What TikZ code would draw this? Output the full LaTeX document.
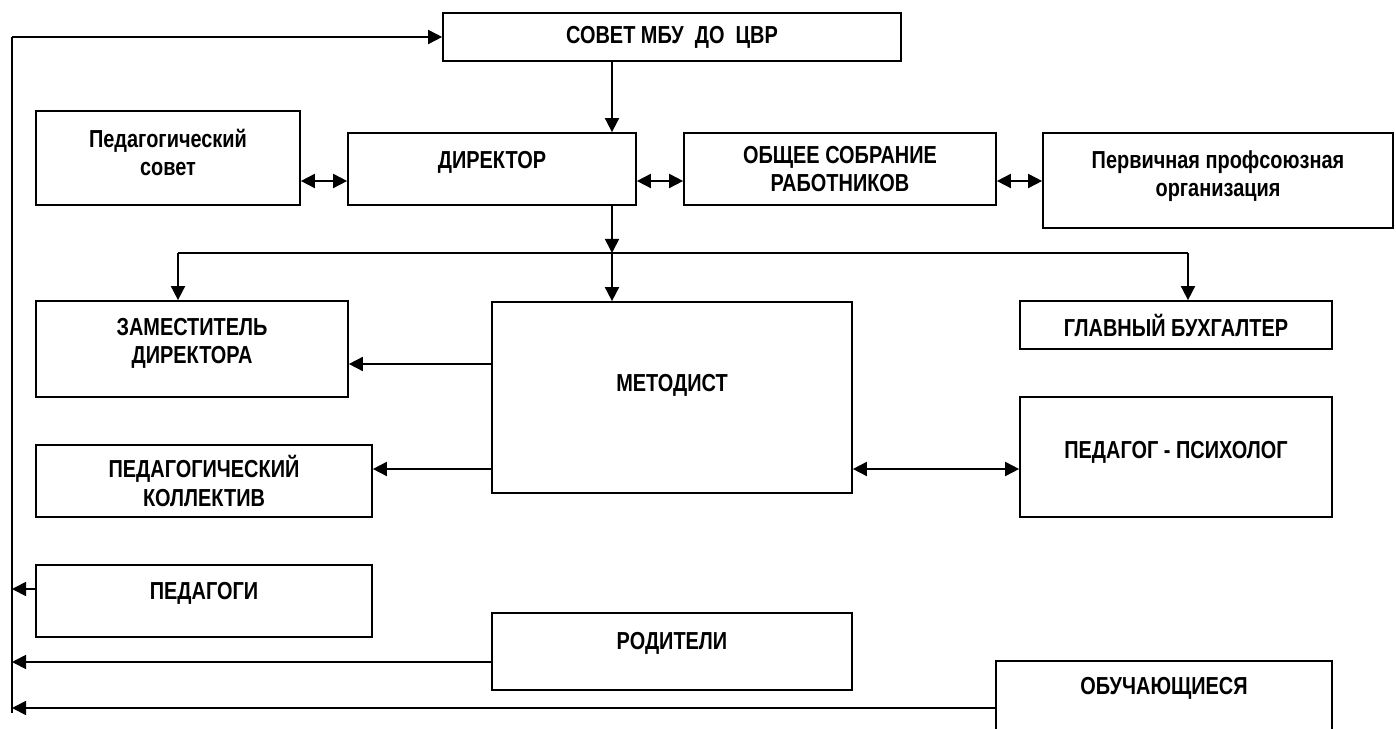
\documentclass[tikz,border=0pt]{standalone}
\usepackage{fontspec}
\newfontfamily\boxfont{Liberation Sans}[FakeStretch=0.81]
\usetikzlibrary{arrows.meta}

\tikzset{
  box/.style={draw, line width=1pt, align=center, inner sep=2pt,
    font=\boxfont\bfseries\fontsize{14}{16}\selectfont},
  lift/.style={text depth=#1}
}

\begin{document}
\begin{tikzpicture}[x=0.02cm, y=-0.02cm, line width=1pt, >={Triangle[length=8pt,width=8pt]}]
  \useasboundingbox (0,0) rectangle (1396,729);
  \clip (0,0) rectangle (1396,729);
  % top row
  \node (sovet) at (672,37) [box, minimum width=9.16cm, minimum height=0.96cm] {СОВЕТ МБУ \ ДО \ ЦВР};
  \node (pedsovet) at (168,158) [box, lift=6pt, minimum width=5.28cm, minimum height=1.88cm] {Педагогический\\совет};
  \node (dir) at (492,169) [box, lift=10pt, minimum width=5.76cm, minimum height=1.44cm] {ДИРЕКТОР};
  \node (obshee) at (840,169) [box, minimum width=6.24cm, minimum height=1.44cm] {ОБЩЕЕ СОБРАНИЕ\\РАБОТНИКОВ};
  \node (perv) at (1218,180.5) [box, lift=8pt, minimum width=7cm, minimum height=1.9cm] {Первичная профсоюзная\\организация};
  % middle
  \node (zam) at (192,349) [box, lift=9pt, minimum width=6.24cm, minimum height=1.92cm] {ЗАМЕСТИТЕЛЬ\\ДИРЕКТОРА};
  \node (glav) at (1176,325) [box, minimum width=6.24cm, minimum height=0.96cm] {ГЛАВНЫЙ БУХГАЛТЕР};
  \node (metod) at (672,397.5) [box, lift=17pt, minimum width=7.2cm, minimum height=3.82cm] {МЕТОДИСТ};
  \node (koll) at (204,481) [box, minimum width=6.72cm, minimum height=1.44cm] {ПЕДАГОГИЧЕСКИЙ\\КОЛЛЕКТИВ};
  \node (psych) at (1176,457) [box, lift=8pt, minimum width=6.24cm, minimum height=2.4cm] {ПЕДАГОГ - ПСИХОЛОГ};
  % bottom
  \node (pedagogi) at (204,601) [box, lift=12pt, minimum width=6.72cm, minimum height=1.44cm] {ПЕДАГОГИ};
  \node (rodit) at (672,651.5) [box, lift=12pt, minimum width=7.2cm, minimum height=1.54cm] {РОДИТЕЛИ};
  \node (obuch) at (1164,710.5) [box, lift=28pt, minimum width=6.72cm, minimum height=1.98cm] {ОБУЧАЮЩИЕСЯ};

  \coordinate (trunk) at (612,0);
  \coordinate (busL) at (178,253);
  \coordinate (busR) at (1188,253);
  \coordinate (spineT) at (12,37);
  \coordinate (spineB) at (12,713);

  \draw [->] (sovet.south -| trunk) -- (dir.north -| trunk);
  \draw [->] (dir.south -| trunk) -- (trunk |- busL);
  \draw (busL) -- (busR);
  \draw [->] (trunk |- busL) -- (metod.north -| trunk);
  \draw [->] (busL) -- (zam.north -| busL);
  \draw [->] (busR) -- (glav.north -| busR);

  \foreach \a/\b in {pedsovet/dir, dir/obshee, obshee/perv}
    \draw [<->] (\a.east |- 0,181) -- (\b.west |- 0,181);

  \draw [->] (metod.west |- 0,364) -- (zam.east |- 0,364);
  \draw [->] (metod.west |- 0,469) -- (koll.east |- 0,469);
  \draw [<->] (metod.east |- 0,469) -- (psych.west |- 0,469);

  % left line
  \draw (spineT) -- (spineB);
  \draw [->] (spineT) -- (sovet.west);
  \foreach \n/\y in {pedagogi/589, rodit/662, obuch/708}
    \draw [->] (\n.west |- 0,\y) -- (spineT |- 0,\y);
\end{tikzpicture}
\end{document}
